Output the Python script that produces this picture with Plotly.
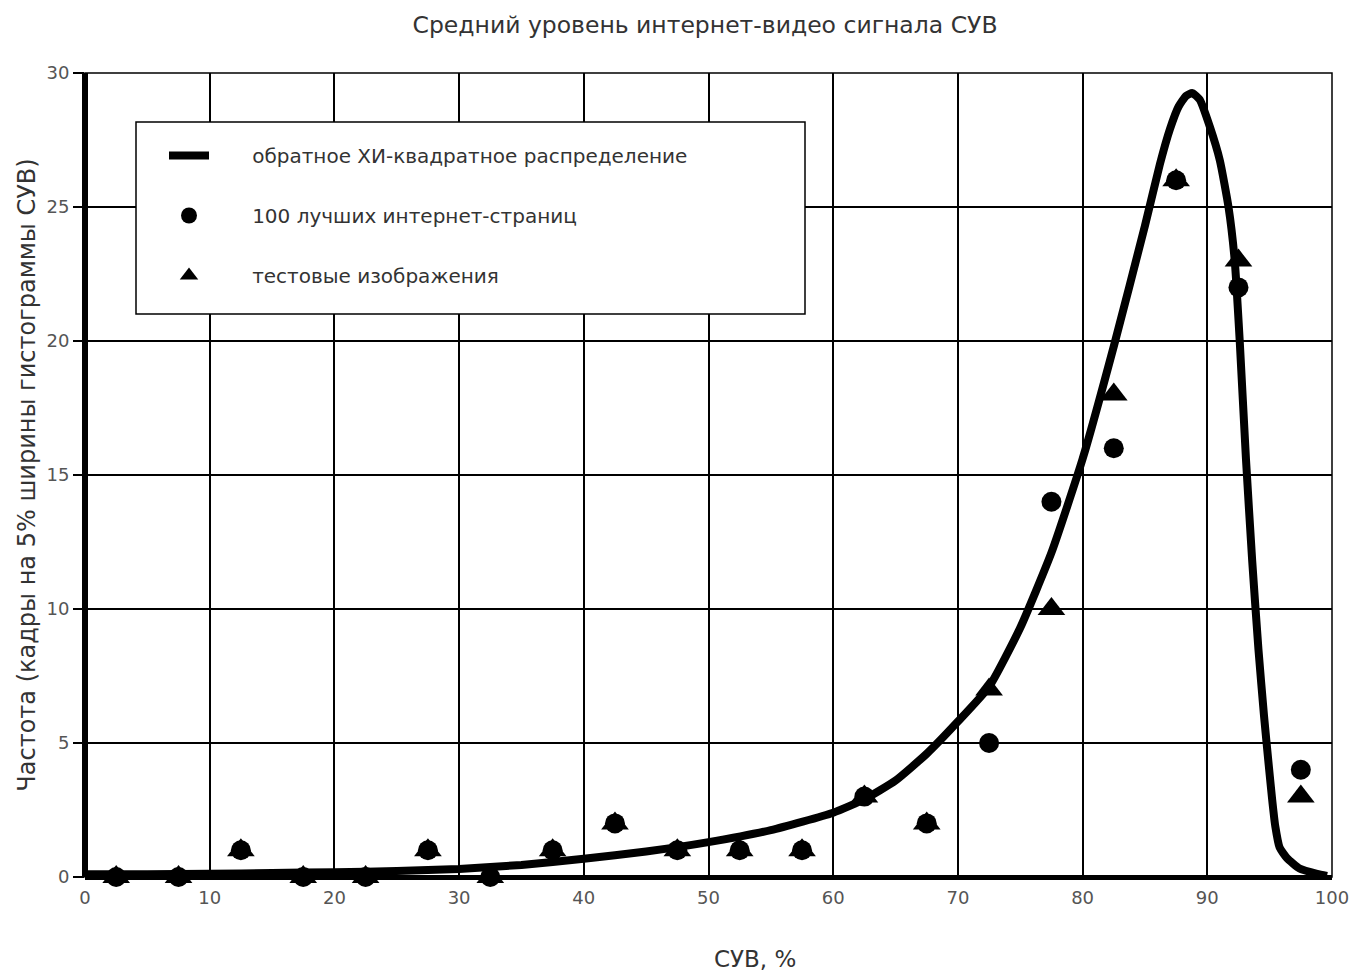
import plotly.graph_objects as go

# --- data ---
bins = [2.5, 7.5, 12.5, 17.5, 22.5, 27.5, 32.5, 37.5, 42.5, 47.5,
        52.5, 57.5, 62.5, 67.5, 72.5, 77.5, 82.5, 87.5, 92.5, 97.5]
top100_pages = [0, 0, 1, 0, 0, 1, 0, 1, 2, 1,
                1, 1, 3, 2, 5, 14, 16, 26, 22, 4]
test_images = [0, 0, 1, 0, 0, 1, 0, 1, 2, 1,
               1, 1, 3, 2, 7, 10, 18, 26, 23, 3]

curve_x = [0, 5, 10, 15, 20, 25, 30, 35, 40, 45, 50, 55, 60, 62.5, 65, 67.5,
           70, 72.5, 75, 77.5, 80, 82.5, 85, 86.2, 87.0, 87.7, 88.3, 88.8,
           89.4, 90.2, 91.0, 91.7, 92.2, 92.6, 93.1, 93.6, 94.1, 94.55,
           94.9, 95.2, 95.45, 95.8, 96.4, 97.4, 98.8, 99.6]
curve_y = [0.1, 0.1, 0.12, 0.15, 0.18, 0.22, 0.3, 0.45, 0.68, 0.95, 1.3, 1.75,
           2.4, 2.9, 3.6, 4.6, 5.8, 7.1, 9.3, 12.1, 15.6, 19.8, 24.3, 26.6,
           27.9, 28.75, 29.15, 29.25, 29.0, 28.0, 26.75, 25.0, 23.0, 20.0,
           15.6, 11.8, 8.5, 6.0, 4.3, 2.9, 1.9, 1.1, 0.7, 0.32, 0.12, 0.04]

x_ticks = [0, 10, 20, 30, 40, 50, 60, 70, 80, 90, 100]
y_ticks = [0, 5, 10, 15, 20, 25, 30]

title_text = "Средний уровень интернет-видео сигнала СУВ"
x_title = "СУВ, %"
y_title = "Частота (кадры на 5% ширины гистограммы СУВ)"
names = ["обратное ХИ-квадратное распределение",
         "100 лучших интернет-страниц",
         "тестовые изображения"]

FONT = "DejaVu Sans"
TXT = "#333333"
PAD = "\u00a0" * 6

fig = go.Figure()
fig.add_trace(go.Scatter(
    x=curve_x, y=curve_y, mode="lines", name=PAD + names[0], legendgroup="a",
    line=dict(color="black", width=8, shape="spline", smoothing=0.5),
    cliponaxis=False))
fig.add_trace(go.Scatter(
    x=bins, y=top100_pages, mode="markers", name=PAD + names[1], legendgroup="b",
    marker=dict(symbol="circle", size=20, color="black"), cliponaxis=False))
fig.add_trace(go.Scatter(
    x=bins, y=test_images, mode="markers", name=PAD + names[2], legendgroup="c",
    marker=dict(symbol="triangle-up", size=24, color="black"), cliponaxis=False))

L, R, T, B = 85, 32, 73, 95
W, H = 1364, 972
pw, ph = W - L - R, H - T - B

def px(xp):
    return (xp - L) / pw

def py(yp):
    return (H - B - yp) / ph

fig.update_layout(
    width=W, height=H,
    margin=dict(l=L, r=R, t=T, b=B),
    paper_bgcolor="white", plot_bgcolor="white",
    font=dict(family=FONT, color=TXT, size=18),
    title=dict(text=title_text, x=px(705), xref="paper", xanchor="center",
               y=1 - 25 / H, yanchor="middle",
               font=dict(family=FONT, size=23.5, color=TXT)),
    showlegend=True,
    legend=dict(x=px(164), y=py(136), xanchor="left", yanchor="top",
                bgcolor="rgba(0,0,0,0)", borderwidth=0,
                font=dict(family=FONT, size=20, color=TXT),
                itemwidth=40, tracegroupgap=31, traceorder="grouped"),
    shapes=[
        dict(type="rect", xref="paper", yref="paper", x0=0, x1=1, y0=0, y1=1,
             line=dict(color="black", width=1.5), layer="below"),
        dict(type="rect", xref="paper", yref="paper",
             x0=px(136), x1=px(805), y0=py(314), y1=py(122),
             line=dict(color="black", width=1.5), fillcolor="white",
             layer="above"),
    ],
    annotations=[
        dict(text=x_title, xref="paper", yref="paper", x=px(755), y=py(959),
             xanchor="center", yanchor="middle", showarrow=False,
             font=dict(family=FONT, size=23, color=TXT)),
    ],
)

fig.update_xaxes(
    range=[0, 100], tickvals=x_ticks, showgrid=True, gridcolor="black",
    gridwidth=1.5, zeroline=True, zerolinecolor="black", zerolinewidth=6,
    showline=False, ticks="outside", ticklen=4, tickcolor="rgba(0,0,0,0)",
    tickfont=dict(family=FONT, size=18, color="#555555"))
fig.update_yaxes(
    range=[0, 30], tickvals=y_ticks, showgrid=True, gridcolor="black",
    gridwidth=1.5, zeroline=True, zerolinecolor="black", zerolinewidth=5,
    showline=False, ticks="outside", ticklen=11, tickwidth=2, tickcolor="black",
    tickfont=dict(family=FONT, size=18, color="#555555"),
    title=dict(text=y_title, standoff=4,
               font=dict(family=FONT, size=24, color=TXT)))

fig.write_html("out.html", config={"displayModeBar": False},
               post_script="document.body.style.margin='0';")
